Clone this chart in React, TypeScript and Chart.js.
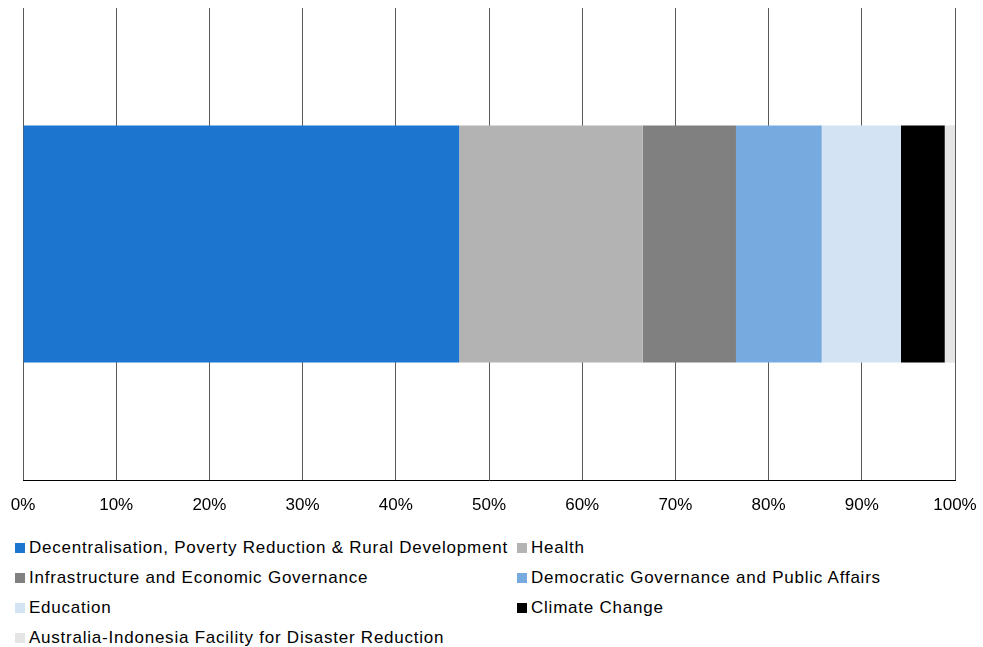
import React, { useEffect, useRef } from "react";
import { Chart, registerables } from "chart.js";

Chart.register(...registerables);

const categories = ["Program"];
const seriesNames = [
  "Decentralisation, Poverty Reduction & Rural Development",
  "Health",
  "Infrastructure and Economic Governance",
  "Democratic Governance and Public Affairs",
  "Education",
  "Climate Change",
  "Australia-Indonesia Facility for Disaster Reduction",
];
const seriesValues = [46.8, 19.7, 10.0, 9.2, 8.5, 4.7, 1.1];
const seriesColors = ["#1c75cf", "#b3b3b3", "#808080", "#77abe0", "#d3e3f4", "#000000", "#e5e5e5"];
const tickLabels = ["0%", "10%", "20%", "30%", "40%", "50%", "60%", "70%", "80%", "90%", "100%"];

const FONT = "'Liberation Sans', Arial, sans-serif";

export default function App() {
  const canvasRef = useRef<HTMLCanvasElement | null>(null);

  useEffect(() => {
    if (!canvasRef.current) return;
    const chart = new Chart(canvasRef.current, {
      type: "bar",
      data: {
        labels: categories,
        datasets: seriesNames.map((name, i) => ({
          label: name,
          data: [seriesValues[i]],
          backgroundColor: seriesColors[i],
          borderWidth: 0,
          barPercentage: 0.502,
          categoryPercentage: 1,
        })),
      },
      options: {
        indexAxis: "y",
        responsive: false,
        animation: false,
        layout: { padding: { left: 23, right: 28, top: 8, bottom: 0 } },
        plugins: { legend: { display: false }, tooltip: { enabled: false } },
        scales: {
          x: {
            stacked: true,
            min: 0,
            max: 100,
            afterFit: (s: any) => {
              s.paddingLeft = 0;
              s.paddingRight = 0;
              s.height = 40;
            },
            ticks: {
              stepSize: 10,
              padding: 15,
              color: "#000",
              font: { family: FONT, size: 17 },
              callback: (v: any, idx: number) => tickLabels[idx] ?? v + "%",
            },
            grid: { color: "#5a5a5a", lineWidth: 1, drawTicks: false },
            border: { display: true, color: "#000", width: 1 },
          },
          y: {
            stacked: true,
            display: false,
          },
        },
      },
    });
    return () => chart.destroy();
  }, []);

  return (
    <div style={{ position: "absolute", left: 0, top: 0, width: 983, height: 647, background: "#fff", fontFamily: FONT }}>
      <canvas ref={canvasRef} width={983} height={520} style={{ display: "block" }} />
      {seriesNames.map((name, i) => {
        const col = i % 2;
        const row = Math.floor(i / 2);
        const x = col === 0 ? 15 : 517;
        const cy = 548 + row * 30;
        return (
          <div
            key={name}
            style={{
              position: "absolute",
              left: x,
              top: cy - 10,
              height: 20,
              display: "flex",
              alignItems: "center",
              whiteSpace: "nowrap",
              fontSize: 17,
              letterSpacing: "0.77px",
              color: "#000",
              lineHeight: "20px",
            }}
          >
            <span style={{ display: "inline-block", width: 10, height: 10, background: seriesColors[i], marginRight: 4 }} />
            <span>{name}</span>
          </div>
        );
      })}
    </div>
  );
}
